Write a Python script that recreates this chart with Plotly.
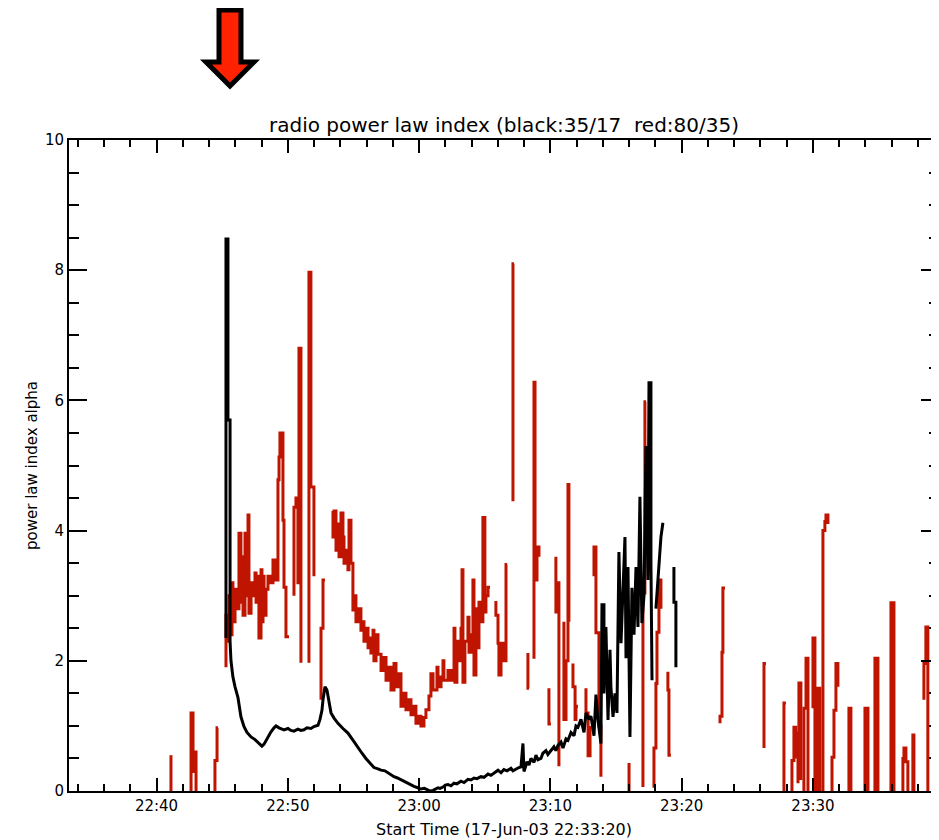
import math
import pandas as pd
import plotly.graph_objects as go

GAP = (math.nan, math.nan)

# time in minutes after 22:00 UT (17-Jun-2003), value = power law index alpha
RED_PRE = [(41.10, 0), (41.10, 0.55), GAP,
           (42.63, 0), (42.63, 1.2), (42.78, 1.2), (42.78, 0.3), (42.93, 0.3), (42.93, 0.6), (43.01, 0.6), (43.01, 0), GAP,
           (44.45, 0), (44.45, 0.47), (44.61, 0.47), (44.61, 0.97), (44.68, 0.97), GAP]

RED_IMPULSIVE = [(45.29, 1.9), (45.29, 2.7), (45.44, 2.7), (45.44, 2.3), (45.52, 2.3), (45.52, 3.0), (45.67, 3.0),
                 (45.67, 2.4), (45.75, 2.4), (45.75, 3.2), (45.82, 3.2), (45.82, 2.6), (45.98, 2.6), (45.98, 3.1),
                 (46.13, 3.1), (46.13, 2.8), (46.28, 2.8), (46.28, 3.96), (46.43, 3.96), (46.43, 2.9), (46.51, 2.9),
                 (46.51, 3.6), (46.59, 3.6), (46.59, 2.7), (46.74, 2.7), (46.74, 3.96), (46.82, 3.96), (46.82, 3.0),
                 (46.89, 3.0), (46.89, 3.8), (46.97, 3.8), (46.97, 4.24), (47.04, 4.24), (47.04, 2.73), (47.20, 2.73),
                 (47.20, 3.2), (47.35, 3.2), (47.35, 3.0), (47.50, 3.0), (47.50, 3.35), (47.58, 3.35), (47.58, 2.9),
                 (47.73, 2.9), (47.73, 3.3), (47.80, 3.3), (47.80, 2.35), (47.96, 2.35), (47.96, 3.4), (48.03, 3.4),
                 (48.03, 2.6), (48.11, 2.6), (48.11, 3.3), (48.19, 3.3), (48.19, 2.7), (48.34, 2.7), (48.34, 3.1),
                 (48.49, 3.1), (48.49, 3.3), (48.72, 3.3), (48.72, 3.2), (48.87, 3.2), (48.87, 3.55), (49.10, 3.55),
                 (49.10, 3.24), (49.25, 3.24), (49.25, 4.78), (49.33, 4.78), (49.33, 5.13), (49.40, 5.13), (49.40, 5.5),
                 (49.63, 5.5), (49.63, 4.16), (49.71, 4.16), (49.71, 3.13), (49.86, 3.13), (49.86, 2.37), (50.09, 2.37), GAP,
                 (50.47, 3.0), (50.47, 4.36), (50.62, 4.36), (50.62, 4.5), (50.77, 4.5), (50.77, 3.2), (50.85, 3.2),
                 (50.85, 6.8), (51.00, 6.8), (51.00, 1.97), GAP,
                 (51.61, 1.97), (51.61, 7.97), (51.76, 7.97), (51.76, 4.67), (51.99, 4.67), (51.99, 3.3), GAP,
                 (52.53, 1.4), (52.53, 2.5), (52.68, 2.5), (52.68, 3.24), (52.83, 3.24), GAP]

RED_DECAY = [(53.44, 4.3), (53.44, 3.9), (53.52, 3.9), (53.52, 4.3), (53.67, 4.3), (53.67, 3.7), (53.82, 3.7),
             (53.82, 4.1), (53.90, 4.1), (53.90, 3.6), (54.05, 3.6), (54.05, 4.27), (54.20, 4.27), (54.20, 3.9),
             (54.28, 3.9), (54.28, 3.5), (54.43, 3.5), (54.43, 3.7), (54.58, 3.7), (54.58, 3.4), (54.66, 3.4),
             (54.66, 4.16), (54.81, 4.16), (54.81, 3.5), (54.96, 3.5), (54.96, 2.78), (55.04, 2.78), (55.04, 3.0),
             (55.19, 3.0), (55.19, 2.6), (55.34, 2.6), (55.34, 2.8), (55.57, 2.8), (55.57, 2.47), (55.65, 2.47),
             (55.65, 2.6), (55.80, 2.6), (55.80, 2.3), (55.95, 2.3), (55.95, 2.5), (56.11, 2.5), (56.11, 2.2),
             (56.26, 2.2), (56.26, 2.35), (56.33, 2.35), (56.33, 2.12), (56.49, 2.12), (56.49, 2.47), (56.56, 2.47),
             (56.56, 2.0), (56.72, 2.0), (56.72, 2.4), (56.87, 2.4), (56.87, 2.1), (57.10, 2.1), (57.10, 1.85),
             (57.25, 1.85), (57.25, 2.05), (57.48, 2.05), (57.48, 1.7), (57.63, 1.7), (57.63, 1.9), (57.86, 1.9),
             (57.86, 1.55), (58.09, 1.55), (58.09, 1.96), (58.24, 1.96), (58.24, 1.6), (58.47, 1.6), (58.47, 1.8),
             (58.62, 1.8), (58.62, 1.3), (58.85, 1.3), (58.85, 1.5), (59.00, 1.5), (59.00, 1.25), (59.15, 1.25),
             (59.15, 1.4), (59.38, 1.4), (59.38, 1.17), (59.61, 1.17), (59.61, 1.3), (59.76, 1.3), (59.76, 1.04),
             (59.99, 1.04), (59.99, 1.15), (60.14, 1.15), (60.14, 1.0), (60.37, 1.0), (60.37, 1.13), (60.52, 1.13),
             (60.52, 1.25), (60.75, 1.25), (60.75, 1.46), (60.90, 1.46), (60.90, 1.8), (61.06, 1.8), (61.06, 1.55),
             (61.36, 1.55), (61.36, 1.9), (61.44, 1.9), (61.44, 1.6), (61.67, 1.6), (61.67, 1.75), (61.82, 1.75),
             (61.82, 2.0), (61.89, 2.0), (61.89, 1.7), (62.20, 1.7), (62.20, 1.85), (62.43, 1.85), (62.43, 1.7),
             (62.66, 1.7), (62.66, 2.5), (62.73, 2.5), (62.73, 1.67), (62.88, 1.67), (62.88, 2.3), (63.11, 2.3),
             (63.11, 2.0), (63.19, 2.0), (63.19, 2.5), (63.27, 2.5), (63.27, 3.4), (63.34, 3.4), (63.34, 1.67),
             (63.49, 1.67), (63.49, 2.3), (63.72, 2.3), (63.72, 2.67), (63.80, 2.67), (63.80, 2.13), (63.95, 2.13),
             (63.95, 2.4), (64.10, 2.4), (64.10, 3.24), (64.18, 3.24), (64.18, 1.78), (64.33, 1.78), (64.33, 2.8),
             (64.41, 2.8), (64.41, 2.2), (64.56, 2.2), (64.56, 2.9), (64.71, 2.9), (64.71, 2.6), (64.86, 2.6),
             (64.86, 4.2), (65.01, 4.2), (65.01, 2.75), (65.09, 2.75), (65.09, 3.0), (65.25, 3.0), (65.25, 3.13),
             (65.40, 3.13), GAP,
             (65.85, 2.92), (65.85, 2.7), (66.01, 2.7), (66.01, 2.27), (66.08, 2.27), (66.08, 1.78), (66.24, 1.78),
             (66.24, 2.27), (66.46, 2.27), (66.46, 2.0), (66.62, 2.0), (66.62, 3.48), (66.70, 3.48), GAP]

RED_BURSTS = [(67.15, 4.45), (67.15, 8.1), (67.23, 8.1), GAP,
              (68.29, 2.12), (68.29, 1.58), (68.37, 1.58), GAP,
              (68.75, 2.03), (68.75, 6.28), (68.83, 6.28), (68.83, 3.24), (68.98, 3.24), (68.98, 3.75), (69.13, 3.75),
              (69.13, 3.6), GAP,
              (69.89, 1.58), (69.89, 1.03), (70.04, 1.03), GAP,
              (70.42, 3.6), (70.42, 2.75), (70.58, 2.75), (70.58, 3.2), (70.65, 3.2), (70.65, 0.38), GAP,
              (71.03, 2.6), (71.03, 1.1), (71.19, 1.1), (71.19, 2.0), (71.34, 2.0), (71.34, 4.71), (71.41, 4.71),
              (71.41, 2.6), GAP,
              (71.72, 1.96), (71.72, 1.6), (71.88, 1.6), (71.88, 1.1), (71.95, 1.1), (71.95, 1.3), (72.10, 1.3), GAP,
              (72.71, 1.58), (72.71, 1.2), (72.87, 1.2), (72.87, 0.54), (73.02, 0.54), (73.02, 1.0), GAP,
              (73.32, 3.3), (73.32, 3.75), (73.47, 3.75), (73.47, 2.43), (73.70, 2.43), (73.70, 1.0), (73.85, 1.0),
              (73.85, 0.22), GAP,
              (75.99, 0.43), (75.99, 0.0), GAP,
              (77.05, 0.06), (77.05, 3.04), (77.20, 3.04), (77.20, 5.98), (77.28, 5.98), GAP,
              (77.89, 0.05), (77.89, 0.66), (78.04, 0.66), (78.04, 1.65), (78.12, 1.65), (78.12, 2.44), (78.27, 2.44),
              (78.27, 3.24), (78.42, 3.24), (78.42, 2.8), GAP,
              (78.95, 1.83), (78.95, 1.55), (79.03, 1.55), (79.03, 0.55), (79.18, 0.55), GAP]

RED_TAIL = [(82.92, 1.04), (82.92, 1.15), (83.07, 1.15), (83.07, 2.13), (83.14, 2.13), (83.14, 3.12), (83.30, 3.12), GAP,
            (86.27, 0.66), (86.27, 1.96), (86.42, 1.96), GAP,
            (87.79, 0), (87.79, 1.35), (87.94, 1.35), GAP,
            (88.40, 0), (88.40, 0.47), (88.55, 0.47), (88.55, 0.98), (88.70, 0.98), (88.70, 0.5), GAP,
            (88.86, 0.12), (88.86, 0.89), (88.93, 0.89), (88.93, 1.66), (89.08, 1.66), (89.08, 0.17), GAP,
            (89.31, 0), (89.31, 1.27), (89.47, 1.27), (89.47, 2.04), (89.62, 2.04), (89.62, 0), GAP,
            (90.00, 1.27), (90.00, 2.35), (90.15, 2.35), (90.15, 0), (90.30, 0), (90.30, 1.58), (90.53, 1.58), (90.53, 0), GAP,
            (90.76, 0), (90.76, 4.0), (90.91, 4.0), (90.91, 4.14), (90.99, 4.14), (90.99, 4.24), (91.14, 4.24), (91.14, 4.1), GAP,
            (91.45, 0), (91.45, 0.52), (91.60, 0.52), (91.60, 1.24), (91.75, 1.24), (91.75, 1.96), (91.90, 1.96), (91.90, 1.6), GAP,
            (92.74, 0), (92.74, 1.27), (92.89, 1.27), (92.89, 0), GAP,
            (93.96, 0), (93.96, 1.27), (94.19, 1.27), (94.19, 0), GAP,
            (94.72, 0), (94.72, 2.04), (94.95, 2.04), (94.95, 0), GAP,
            (95.94, 0), (95.94, 2.89), (96.17, 2.89), (96.17, 0), GAP,
            (96.85, 0), (96.85, 0.5), (96.93, 0.5), (96.93, 0.66), (97.08, 0.66), (97.08, 0.45), (97.23, 0.45), (97.23, 0), GAP,
            (97.61, 0), (97.61, 0.86), (97.69, 0.86), (97.69, 0), GAP,
            (98.45, 1.4), (98.45, 1.96), (98.60, 1.96), (98.60, 2.52), (98.75, 2.52), (98.75, 0), GAP,
            (99.44, 0), (99.44, 0.27), (99.67, 0.27)]

BLACK_ONSET = [(45.29, 2.35), (45.29, 8.48), (45.44, 8.48), (45.44, 5.7), (45.60, 5.7), (45.60, 2.3)]

BLACK_DECAY = [(45.67, 2.0), (45.82, 1.75), (45.98, 1.6), (46.20, 1.44), (46.43, 1.14), (46.66, 0.99), (46.89, 0.9),
               (47.20, 0.83), (47.50, 0.79), (47.73, 0.75), (48.03, 0.69), (48.19, 0.72), (48.34, 0.78), (48.57, 0.86),
               (48.72, 0.91), (48.95, 0.97), (49.10, 1.0), (49.33, 0.97), (49.56, 0.95), (49.71, 0.94), (50.01, 0.96),
               (50.24, 0.93), (50.47, 0.92), (50.77, 0.95), (51.00, 0.93), (51.23, 0.94), (51.46, 0.97), (51.76, 0.96),
               (51.99, 0.99), (52.30, 1.01), (52.45, 1.1), (52.60, 1.24), (52.68, 1.4), (52.76, 1.55), (52.83, 1.6),
               (52.98, 1.55), (53.14, 1.37), (53.29, 1.2), (53.52, 1.12), (53.82, 1.04), (54.20, 0.96), (54.58, 0.89),
               (54.96, 0.78), (55.34, 0.68), (55.65, 0.58), (55.95, 0.5), (56.26, 0.43), (56.56, 0.36), (56.87, 0.34),
               (57.10, 0.32), (57.40, 0.31), (57.63, 0.28), (57.86, 0.26), (58.09, 0.22), (58.35, 0.2), (58.62, 0.17),
               (58.90, 0.14), (59.15, 0.11), (59.38, 0.09), (59.61, 0.07), (59.90, 0.05), (60.14, 0.03), (60.40, 0.04),
               (60.68, 0.02), (60.85, 0.0), (61.06, 0.01), (61.25, 0.03), (61.44, 0.05), (61.60, 0.04), (61.82, 0.06)]

BLACK_RISE = [(62.00, 0.09), (62.20, 0.1), (62.43, 0.08), (62.66, 0.12), (62.88, 0.11), (63.19, 0.15), (63.42, 0.13),
              (63.72, 0.18), (63.95, 0.17), (64.18, 0.2), (64.41, 0.19), (64.71, 0.22), (64.94, 0.21), (65.25, 0.26),
              (65.47, 0.24), (65.70, 0.27), (66.01, 0.32), (66.24, 0.28), (66.46, 0.33), (66.70, 0.31), (67.00, 0.35),
              (67.15, 0.31), (67.38, 0.34), (67.60, 0.36), (67.76, 0.37), (67.91, 0.73), (67.99, 0.3), (68.22, 0.45),
              (68.37, 0.4), (68.52, 0.5), (68.75, 0.44), (68.90, 0.55), (69.05, 0.48), (69.28, 0.5), (69.43, 0.58),
              (69.66, 0.62), (69.81, 0.56), (70.04, 0.63), (70.27, 0.68), (70.42, 0.62), (70.58, 0.7), (70.81, 0.75),
              (70.96, 0.66), (71.19, 0.8), (71.34, 0.78), (71.57, 0.9), (71.80, 0.85), (71.95, 1.0), (72.10, 0.98),
              (72.33, 1.1), (72.56, 0.9), (72.71, 1.2), (72.94, 1.1), (73.09, 1.15), (73.32, 0.85), (73.47, 1.48),
              (73.62, 1.1), (73.85, 0.73)]

BLACK_LATE = [(73.93, 2.86), (74.08, 2.86), (74.08, 1.5), (74.23, 2.52), (74.39, 1.09), (74.54, 2.17), (74.61, 1.6),
              (74.77, 1.14), (74.92, 1.5), (75.07, 1.2), (75.22, 3.67), (75.38, 2.27), (75.53, 3.0), (75.68, 3.9),
              (75.76, 2.04), (75.91, 3.44), (76.06, 0.83), (76.21, 3.12), (76.37, 2.4), (76.52, 3.44), (76.67, 2.52),
              (76.82, 4.52), (76.97, 2.58), (77.13, 3.0), (77.28, 5.3), (77.43, 3.24), (77.51, 6.27), (77.66, 6.27),
              (77.66, 3.5), (77.74, 1.7), GAP,
              (78.04, 2.8), (78.12, 3.0), (78.19, 3.3), (78.27, 3.4), (78.35, 3.7), (78.42, 3.9), (78.50, 4.0),
              (78.57, 4.12), GAP,
              (79.41, 3.44), (79.41, 2.9), (79.56, 2.9), (79.56, 1.9)]

TITLE = "radio power law index (black:35/17 \u00a0red:80/35)"
X_TITLE = "Start Time (17-Jun-03 22:33:20)"
Y_TITLE = "power law index alpha"
X_START = "2003-06-17 22:33:20"
X_END = "2003-06-17 23:39:36"

BASE = pd.Timestamp("2003-06-17 22:00:00")


def unpack(*parts):
    xs, ys = [], []
    for part in parts:
        for m, v in part:
            if math.isnan(m):
                xs.append(None)
                ys.append(None)
            else:
                xs.append(BASE + pd.Timedelta(minutes=m))
                ys.append(v)
    return xs, ys


rx, ry = unpack(RED_PRE, RED_IMPULSIVE, RED_DECAY, RED_BURSTS, RED_TAIL)
bx, by = unpack(BLACK_ONSET, BLACK_DECAY, BLACK_RISE, BLACK_LATE)

fig = go.Figure()
fig.add_trace(go.Scatter(x=rx, y=ry, mode="lines", line=dict(color="#BE1400", width=3),
                         connectgaps=False, showlegend=False, hoverinfo="skip"))
fig.add_trace(go.Scatter(x=bx, y=by, mode="lines", line=dict(color="#000000", width=3),
                         connectgaps=False, showlegend=False, hoverinfo="skip"))

FAM = "DejaVu Sans, Liberation Sans, sans-serif"
font = dict(family=FAM, size=15, color="#000000")

# the page body has an 8px default margin, so the figure is laid out 8px smaller
fig.update_layout(
    width=931, height=832,
    margin=dict(l=61, r=0, t=132, b=49),
    paper_bgcolor="white", plot_bgcolor="white",
    font=font,
    title=dict(text=TITLE, x=0.5, xref="paper", xanchor="center",
               y=1 - 117 / 832, yref="container", yanchor="middle",
               font=dict(family=FAM, size=20, color="#000000")),
    xaxis=dict(type="date", range=[X_START, X_END], showgrid=False, zeroline=False,
               showline=True, linecolor="#000000", linewidth=2, mirror="allticks",
               ticks="inside", ticklen=13, tickwidth=1.5, tickcolor="#000000",
               tick0="2003-06-17 22:40:00", dtick=600000, tickformat="%H:%M",
               minor=dict(ticks="inside", ticklen=7, tickwidth=1.5, tickcolor="#000000",
                          dtick=120000, tick0="2003-06-17 22:40:00", showgrid=False),
               tickfont=dict(family=FAM, size=15, color="#000000"),
               automargin=False,
               title=dict(text=X_TITLE, standoff=10,
                          font=dict(family=FAM, size=16, color="#000000"))),
    yaxis=dict(range=[0, 10], showgrid=False, zeroline=False,
               showline=True, linecolor="#000000", linewidth=2, mirror="allticks",
               ticks="inside", ticklen=18, tickwidth=1.5, tickcolor="#000000",
               tick0=0, dtick=2,
               minor=dict(ticks="inside", ticklen=10, tickwidth=1.5, tickcolor="#000000",
                          dtick=0.5, tick0=0, showgrid=False),
               tickfont=dict(family=FAM, size=15, color="#000000"),
               automargin=False,
               title=dict(text=Y_TITLE, standoff=4,
                          font=dict(family=FAM, size=15, color="#000000"))),
)

# red arrow marking the onset (drawn above the plot frame)
fig.add_shape(type="path", xref="paper", yref="paper",
              path="M 0.17241 1.19969 L 0.19770 1.19969 L 0.19770 1.11982 L 0.21264 1.11982 "
                   "L 0.18506 1.08295 L 0.15747 1.11982 L 0.17241 1.11982 Z",
              fillcolor="#FF2200", line=dict(color="#000000", width=5), layer="above")

fig.write_html("out.html")
